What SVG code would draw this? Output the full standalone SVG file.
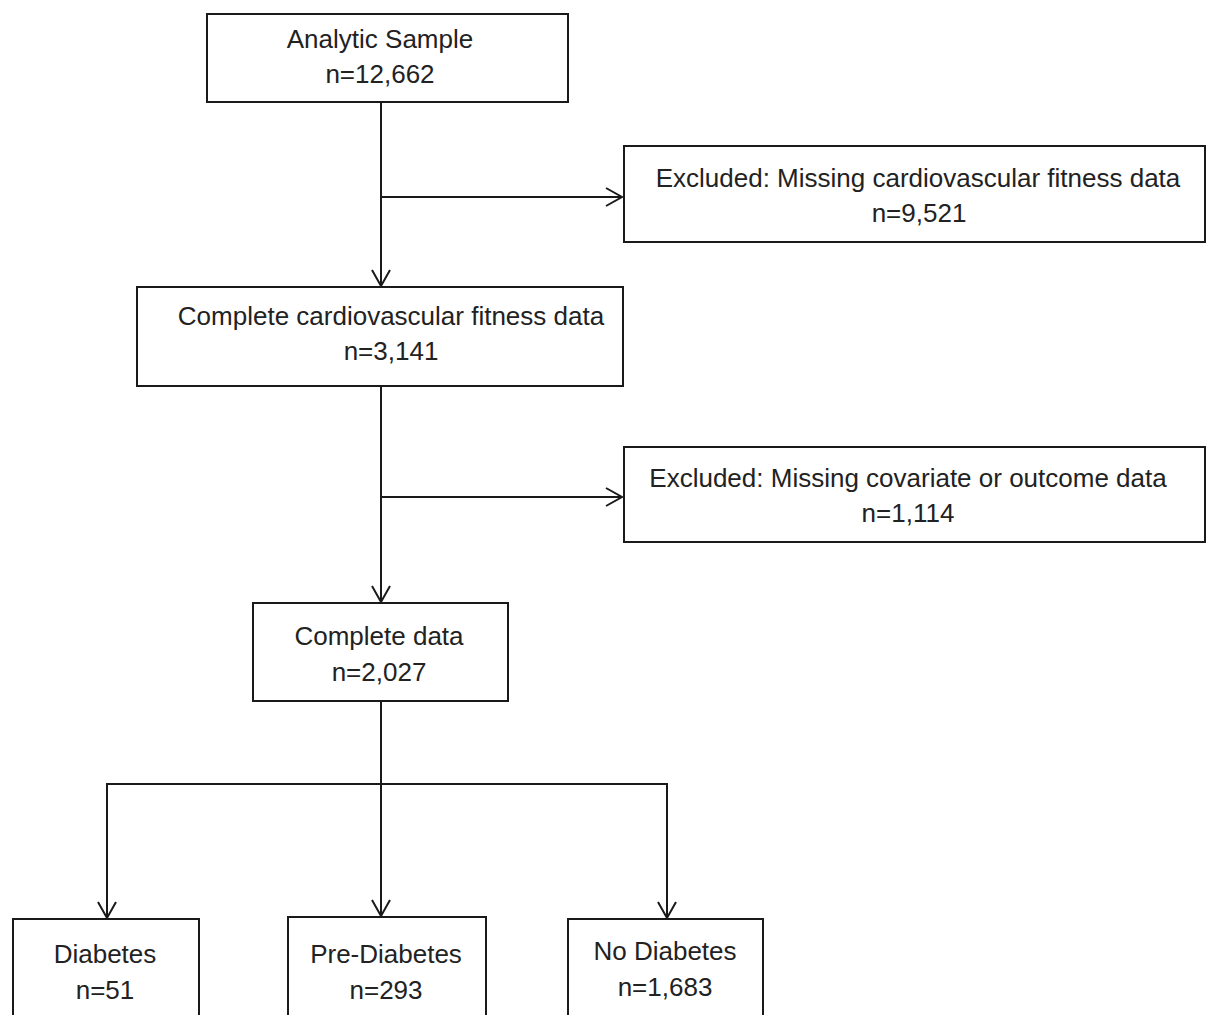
<svg xmlns="http://www.w3.org/2000/svg" width="1206" height="1015" viewBox="0 0 1206 1015">
<style>
.box{fill:#fff;stroke:#1a1a1a;stroke-width:2}
.t{font-family:"Liberation Sans",Arial,sans-serif;font-size:26px;fill:#222;text-anchor:middle}
.c{fill:none;stroke:#1a1a1a;stroke-width:2}
</style>
<defs>
<marker id="arr" markerUnits="userSpaceOnUse" markerWidth="24" markerHeight="24" viewBox="-20 -12 24 24" refX="0" refY="0" orient="auto">
<path d="M-16,-9 L0,0 L-16,9" fill="none" stroke="#1a1a1a" stroke-width="2"/>
</marker>
</defs>
<rect width="1206" height="1015" fill="#fff"/>
<g id="connectors">
<line class="c" x1="381" y1="102" x2="381" y2="286" marker-end="url(#arr)"/>
<line class="c" x1="381" y1="197" x2="622" y2="197" marker-end="url(#arr)"/>
<line class="c" x1="381" y1="386" x2="381" y2="602" marker-end="url(#arr)"/>
<line class="c" x1="381" y1="497" x2="622" y2="497" marker-end="url(#arr)"/>
<line class="c" x1="381" y1="701" x2="381" y2="916" marker-end="url(#arr)"/>
<polyline class="c" points="381,784 107,784 107,918" marker-end="url(#arr)"/>
<polyline class="c" points="381,784 667,784 667,918" marker-end="url(#arr)"/>
</g>
<g id="analytic">
<rect class="box" x="207" y="14" width="361" height="88"/>
<text class="t" x="380" y="48">Analytic Sample</text>
<text class="t" x="380" y="83">n=12,662</text>
</g>
<g id="excluded1">
<rect class="box" x="624" y="146" width="581" height="96"/>
<text class="t" x="918" y="187">Excluded: Missing cardiovascular fitness data</text>
<text class="t" x="919" y="222">n=9,521</text>
</g>
<g id="cardio">
<rect class="box" x="137" y="287" width="486" height="99"/>
<text class="t" x="391" y="325">Complete cardiovascular fitness data</text>
<text class="t" x="391" y="360">n=3,141</text>
</g>
<g id="excluded2">
<rect class="box" x="624" y="447" width="581" height="95"/>
<text class="t" x="908" y="487">Excluded: Missing covariate or outcome data</text>
<text class="t" x="908" y="522">n=1,114</text>
</g>
<g id="complete">
<rect class="box" x="253" y="603" width="255" height="98"/>
<text class="t" x="379" y="645">Complete data</text>
<text class="t" x="379" y="681">n=2,027</text>
</g>
<g id="diabetes">
<rect class="box" x="13" y="919" width="186" height="110"/>
<text class="t" x="105" y="963">Diabetes</text>
<text class="t" x="105" y="999">n=51</text>
</g>
<g id="prediabetes">
<rect class="box" x="288" y="917" width="198" height="110"/>
<text class="t" x="386" y="963">Pre-Diabetes</text>
<text class="t" x="386" y="999">n=293</text>
</g>
<g id="nodiabetes">
<rect class="box" x="568" y="919" width="195" height="110"/>
<text class="t" x="665" y="960">No Diabetes</text>
<text class="t" x="665" y="996">n=1,683</text>
</g>
</svg>
